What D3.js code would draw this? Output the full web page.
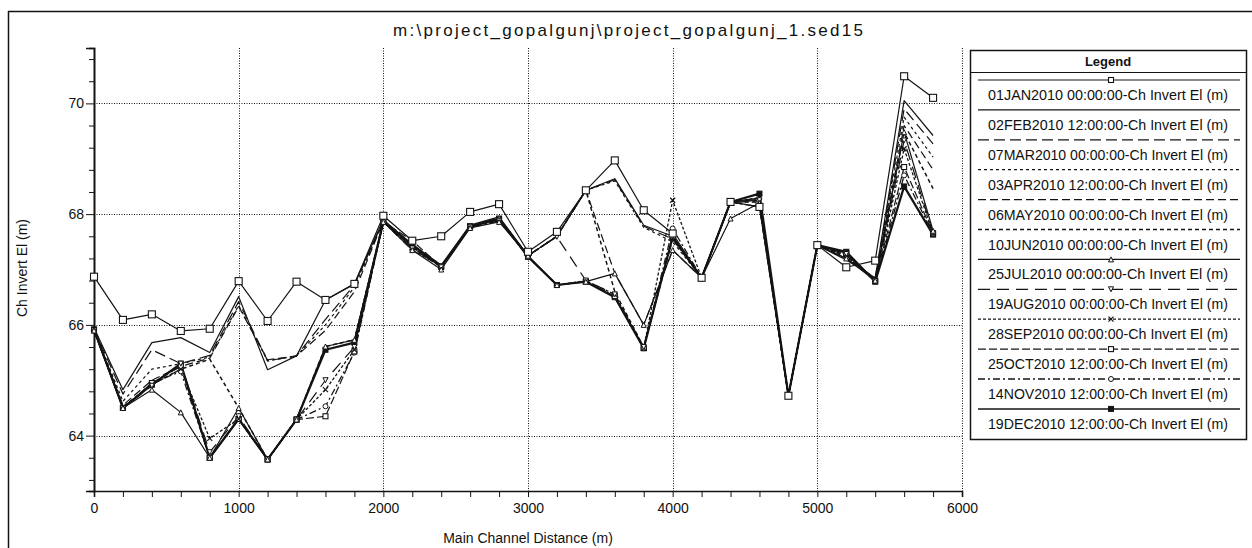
<!DOCTYPE html>
<html><head><meta charset="utf-8">
<script src="https://cdn.jsdelivr.net/npm/d3@7"></script>
<style>
body{margin:0;background:#fff}
svg{display:block}
text{font-family:"Liberation Sans",Arial,sans-serif;fill:#111}
</style>
</head><body>
<svg id="c" width="1252" height="548"></svg>
<script>
// ---------------- DATA ----------------
const distances = [0,200,400,600,800,1000,1200,1400,1600,1800,2000,2200,2400,2600,2800,3000,3200,3400,3600,3800,4000,4200,4400,4600,4800,5000,5200,5400,5600,5800];
const seriesNames = [
  "01JAN2010 00:00:00-Ch Invert El (m)",
  "02FEB2010 12:00:00-Ch Invert El (m)",
  "07MAR2010 00:00:00-Ch Invert El (m)",
  "03APR2010 12:00:00-Ch Invert El (m)",
  "06MAY2010 00:00:00-Ch Invert El (m)",
  "10JUN2010 00:00:00-Ch Invert El (m)",
  "25JUL2010 00:00:00-Ch Invert El (m)",
  "19AUG2010 00:00:00-Ch Invert El (m)",
  "28SEP2010 00:00:00-Ch Invert El (m)",
  "25OCT2010 12:00:00-Ch Invert El (m)",
  "14NOV2010 12:00:00-Ch Invert El (m)",
  "19DEC2010 12:00:00-Ch Invert El (m)"
];
const s01jan = [66.87,66.09,66.19,65.89,65.93,66.79,66.07,66.78,66.45,66.74,67.97,67.52,67.60,68.04,68.18,67.32,67.68,68.43,68.97,68.07,67.65,66.85,68.22,68.13,64.72,67.44,67.04,67.16,70.49,70.10];
const s02feb = [65.95,64.83,65.68,65.77,65.50,66.51,65.19,65.44,66.45,66.74,67.90,67.45,67.08,67.80,67.95,67.25,67.60,68.43,68.64,67.80,67.60,66.85,68.22,68.29,64.72,67.44,67.17,66.85,70.05,69.42];
const s07mar = [65.93,64.75,65.55,65.30,65.45,66.42,65.35,65.44,66.10,66.72,67.88,67.44,67.06,67.78,67.93,67.25,67.60,68.43,68.62,67.78,67.55,66.85,68.22,68.27,64.72,67.44,67.20,66.85,69.90,69.27];
const s03apr = [65.92,64.62,65.20,65.30,65.42,66.35,65.35,65.44,66.00,66.68,67.87,67.42,67.06,67.78,67.92,67.25,67.60,68.43,68.60,67.76,67.50,66.85,68.22,68.25,64.72,67.44,67.22,66.83,69.75,69.03];
const s06may = [65.92,64.55,65.00,65.25,65.40,66.33,65.37,65.44,65.90,66.60,67.87,67.40,67.05,67.77,67.90,67.25,67.60,68.43,66.93,66.00,67.35,66.85,68.22,68.22,64.72,67.44,67.25,66.82,69.60,68.80];
const s10jun = [65.92,64.52,64.92,65.20,65.38,64.50,63.57,64.29,65.61,65.73,67.87,67.40,67.05,67.76,67.88,67.25,67.60,68.43,66.60,65.60,67.55,66.85,68.22,68.22,64.72,67.44,67.25,66.80,69.48,68.46];
const s25jul = [65.90,64.50,64.83,64.42,63.60,64.50,63.57,64.29,65.61,65.73,67.86,67.35,67.00,67.75,67.86,67.25,66.72,66.78,66.93,66.00,67.35,66.85,67.92,68.20,64.72,67.44,67.20,66.80,69.48,67.70];
const s19aug = [65.90,64.50,64.90,65.30,63.70,64.35,63.57,64.29,65.00,65.60,67.86,67.38,67.04,67.76,67.88,67.25,67.59,66.80,66.55,65.60,67.60,66.85,68.22,68.25,64.72,67.44,67.28,66.79,69.33,67.66];
const s28sep = [65.90,64.50,64.92,65.20,63.95,64.30,63.57,64.29,64.83,65.55,67.86,67.40,67.05,67.78,67.90,67.23,66.72,66.80,66.55,65.58,68.25,66.85,68.22,68.30,64.72,67.44,67.28,66.78,69.18,67.65];
const s25oct = [65.90,64.50,64.95,65.25,63.60,64.30,63.57,64.29,64.35,65.52,67.86,67.52,67.05,67.78,67.90,67.23,66.72,66.78,66.52,65.58,67.60,66.85,68.22,68.13,64.72,67.44,67.30,66.80,68.85,67.65];
const s14nov = [65.90,64.50,64.95,65.16,63.60,64.30,63.57,64.29,64.53,65.50,67.86,67.35,67.06,67.78,67.92,67.23,66.72,66.78,66.50,65.58,67.74,66.85,68.22,68.13,64.72,67.44,67.30,66.78,68.70,67.64];
const s19dec = [65.92,64.50,64.92,65.30,63.60,64.30,63.57,64.29,65.55,65.68,67.86,67.45,67.05,67.78,67.92,67.23,66.72,66.78,66.50,65.58,67.59,66.85,68.22,68.37,64.72,67.44,67.32,66.78,68.50,67.63];
const seriesValues = [s01jan,s02feb,s07mar,s03apr,s06may,s10jun,s25jul,s19aug,s28sep,s25oct,s14nov,s19dec];
const xTickValues = [0,200,400,600,800,1000,1200,1400,1600,1800,2000,2200,2400,2600,2800,3000,3200,3400,3600,3800,4000,4200,4400,4600,4800,5000,5200,5400,5600,5800,6000];
const xLabelValues = [0,1000,2000,3000,4000,5000,6000];
const yMinorValues = [63.2,63.6,64.0,64.4,64.8,65.2,65.6,66.0,66.4,66.8,67.2,67.6,68.0,68.4,68.8,69.2,69.6,70.0,70.4,70.8];
const yLabelValues = [64,66,68,70];
const titleText = "m:\\project_gopalgunj\\project_gopalgunj_1.sed15";
const xTitle = "Main Channel Distance (m)";
const yTitle = "Ch Invert El (m)";

// ---------------- STYLES ----------------
const styles = [
  {dash:null, w:1.2, marker:"square"},
  {dash:null, w:1.2, marker:null},
  {dash:"11,5", w:1.2, marker:null},
  {dash:"3,3", w:1.2, marker:null},
  {dash:"8,4", w:1.2, marker:null},
  {dash:"4,3", w:1.5, marker:null},
  {dash:null, w:1.2, marker:"triangle"},
  {dash:"12,7", w:1.2, marker:"tridown"},
  {dash:"3,2", w:1.3, marker:"x"},
  {dash:"8,3", w:1.2, marker:"square"},
  {dash:"7,3,2,3", w:1.3, marker:"circle"},
  {dash:null, w:2.2, marker:"filled"}
];
const ink = "#141414";

const svg = d3.select("#c");
const x = d3.scaleLinear().domain([0,6000]).range([94,962]);
const y = d3.scaleLinear().domain([63,71]).range([491,48]);

// frame
svg.append("line").attr("x1",8).attr("x2",1252).attr("y1",11.5).attr("y2",11.5).attr("stroke",ink).attr("stroke-width",1.5);
svg.append("line").attr("x1",8.5).attr("x2",8.5).attr("y1",11).attr("y2",548).attr("stroke",ink).attr("stroke-width",1.5);

// grid
const grid = svg.append("g").attr("stroke",ink).attr("stroke-width",1).attr("stroke-dasharray","1,1.5");
xLabelValues.filter(d=>d>0).forEach(d=>{
  grid.append("line").attr("x1",Math.round(x(d))+0.5).attr("x2",Math.round(x(d))+0.5).attr("y1",48).attr("y2",491);
});
yLabelValues.forEach(d=>{
  grid.append("line").attr("x1",94).attr("x2",962).attr("y1",Math.round(y(d))+0.5).attr("y2",Math.round(y(d))+0.5);
});

// axes
const yMinorAxis = d3.axisLeft(y).tickValues(yMinorValues.filter(v=>yLabelValues.indexOf(v)<0)).tickSize(5).tickFormat("");
const yMajorAxis = d3.axisLeft(y).tickValues(yLabelValues).tickSize(8).tickPadding(2).tickFormat(d3.format("d"));
const gy1 = svg.append("g").attr("transform","translate(94,0)").call(yMinorAxis);
const gy2 = svg.append("g").attr("transform","translate(94,0)").call(yMajorAxis);
const xAxis = d3.axisBottom(x).tickValues(xTickValues).tickSize(6).tickPadding(6)
  .tickFormat(d=> xLabelValues.indexOf(d)>=0 ? d3.format("d")(d) : "");
const gx = svg.append("g").attr("transform","translate(0,491)").call(xAxis);
[gy1,gy2,gx].forEach(g=>{
  g.selectAll(".domain").attr("stroke",ink).attr("stroke-width",1.6);
  g.selectAll(".tick line").attr("stroke",ink);
  g.selectAll("text").style("font-size","14px").attr("fill",ink).style("font-family","'Liberation Sans',Arial,sans-serif");
});

// titles
svg.append("text").attr("x",628).attr("y",36).attr("text-anchor","middle").style("font-size","17px")
  .attr("textLength",470).attr("lengthAdjust","spacing").text(titleText);
svg.append("text").attr("x",528).attr("y",543).attr("text-anchor","middle").style("font-size","14px").text(xTitle);
svg.append("text").attr("transform","translate(27,268) rotate(-90)").attr("text-anchor","middle").style("font-size","14px").text(yTitle);

// markers
function drawMarker(g, type, cx, cy, s){
  if(!type) return;
  if(type==="square"){
    g.append("rect").attr("x",cx-s/2).attr("y",cy-s/2).attr("width",s).attr("height",s).attr("fill","#fff").attr("stroke",ink).attr("stroke-width",1.1);
  } else if(type==="filled"){
    g.append("rect").attr("x",cx-s/2).attr("y",cy-s/2).attr("width",s).attr("height",s).attr("fill",ink).attr("stroke",ink);
  } else if(type==="triangle"){
    g.append("path").attr("d",`M${cx},${cy-s/2}L${cx+s/2},${cy+s/2}L${cx-s/2},${cy+s/2}Z`).attr("fill","#fff").attr("stroke",ink);
  } else if(type==="tridown"){
    g.append("path").attr("d",`M${cx},${cy+s/2}L${cx+s/2},${cy-s/2}L${cx-s/2},${cy-s/2}Z`).attr("fill","#fff").attr("stroke",ink);
  } else if(type==="circle"){
    g.append("circle").attr("cx",cx).attr("cy",cy).attr("r",s/2).attr("fill","#fff").attr("stroke",ink);
  } else if(type==="x"){
    g.append("path").attr("d",`M${cx-s/2},${cy-s/2}L${cx+s/2},${cy+s/2}M${cx+s/2},${cy-s/2}L${cx-s/2},${cy+s/2}`).attr("stroke",ink).attr("stroke-width",1.2);
  }
}

// lines
const line = d3.line().x((d,i)=>x(distances[i])).y(d=>y(d));
const plot = svg.append("g");
const order = [11,10,9,8,7,6,5,4,3,2,1,0];
order.forEach(k=>{
  const st = styles[k];
  plot.append("path").datum(seriesValues[k]).attr("d",line).attr("fill","none")
    .attr("stroke",ink).attr("stroke-width",st.w).attr("stroke-dasharray",st.dash).attr("stroke-linejoin","round");
});
const mk = svg.append("g");
order.forEach(k=>{
  const st = styles[k];
  if(!st.marker) return;
  const sz = k===0 ? 7 : 5;
  seriesValues[k].forEach((v,i)=> drawMarker(mk, st.marker, x(distances[i]), y(v), sz));
});

// legend
const lg = svg.append("g");
lg.append("rect").attr("x",970.5).attr("y",50.5).attr("width",276).attr("height",389).attr("fill","#fff").attr("stroke",ink).attr("stroke-width",1.5);
lg.append("text").attr("x",1108).attr("y",66).attr("text-anchor","middle").style("font-size","13px").style("font-weight","bold").text("Legend");
lg.append("line").attr("x1",971).attr("x2",1246).attr("y1",72.5).attr("y2",72.5).attr("stroke",ink);
seriesNames.forEach((name,i)=>{
  const ly = 80 + 29.9*i;
  const st = styles[i];
  lg.append("line").attr("x1",978).attr("x2",1240).attr("y1",ly).attr("y2",ly)
    .attr("stroke",ink).attr("stroke-width",Math.min(st.w,1.5)).attr("stroke-dasharray",st.dash);
  drawMarker(lg, st.marker, 1111, ly, 5);
  lg.append("text").attr("x",1108).attr("y",ly+20).attr("text-anchor","middle").style("font-size","14px")
    .attr("textLength",240).attr("lengthAdjust","spacingAndGlyphs").text(name);
});
</script>
</body></html>
